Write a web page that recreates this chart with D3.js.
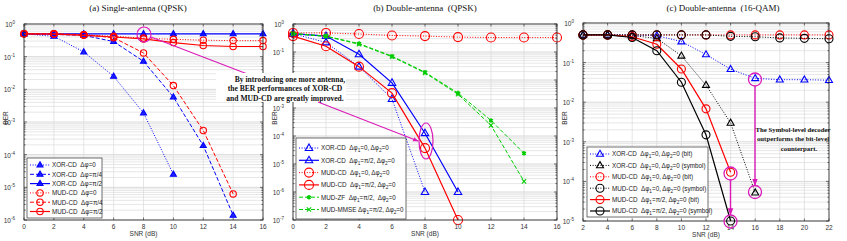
<!DOCTYPE html>
<html>
<head>
<meta charset="utf-8">
<script src="https://cdn.jsdelivr.net/npm/d3@7"></script>
<style>
  body { margin: 0; background: #fff; }
  svg { display: block; }
  text { white-space: pre; }
</style>
</head>
<body>
<div id="chart"></div>
<script>
// ---- data ----
const snrA = [0, 2, 4, 6, 8, 10, 12, 14, 16];
const snrB = [0, 2, 4, 6, 8, 10, 12, 14, 16];
const snrC = [2, 4, 6, 8, 10, 12, 14, 16, 18, 20, 22];

// (a) single antenna, QPSK
const aXor0   = [0.5, 0.42, 0.14, 0.025, 0.0019, 2.5e-5];
const aXorPi4 = [0.5, 0.48, 0.45, 0.29, 0.072, 0.0058, 1.9e-4, 1.4e-6];
const aXorPi2 = [0.5, 0.5, 0.5, 0.5, 0.5, 0.5, 0.5, 0.5, 0.5];
const aMud0   = [0.5, 0.5, 0.47, 0.42, 0.37, 0.34, 0.32, 0.31, 0.31];
const aMudPi4 = [0.5, 0.5, 0.47, 0.38, 0.13, 0.013, 5.5e-4, 6.3e-6];
const aMudPi2 = [0.5, 0.49, 0.45, 0.4, 0.35, 0.27, 0.22, 0.205, 0.205];

// (b) double antenna, QPSK
const bXor0    = [0.45, 0.22, 0.03, 0.0021, 1e-6];
const bXorPi2  = [0.45, 0.37, 0.083, 0.0079, 1.26e-4, 1e-6];
const bMud0    = [0.48, 0.48, 0.44, 0.39, 0.37, 0.34, 0.33, 0.33, 0.33];
const bMudPi2  = [0.37, 0.16, 0.03, 0.0034, 3.7e-5, 1e-7];
const bMudZF   = [0.46, 0.37, 0.2, 0.071, 0.019, 0.0034, 3.6e-4, 2.4e-5];
const bMudMMSE = [0.45, 0.36, 0.19, 0.068, 0.018, 0.0031, 2.4e-4, 2.4e-6];

// (c) double antenna, 16-QAM
const cXorBit    = [0.5, 0.5, 0.5, 0.48, 0.34, 0.16, 0.068, 0.04, 0.037, 0.037, 0.036];
const cXorSym    = [0.5, 0.5, 0.48, 0.41, 0.148, 0.027, 0.003, 5.2e-5];
const cMud0Bit   = [0.5, 0.5, 0.5, 0.5, 0.5, 0.5, 0.5, 0.5, 0.5, 0.5, 0.5];
const cMud0Sym   = [0.5, 0.5, 0.5, 0.5, 0.5, 0.5, 0.46, 0.45, 0.42, 0.41, 0.4];
const cMudPi2Bit = [0.5, 0.5, 0.45, 0.29, 0.069, 0.0068, 1.7e-4];
const cMudPi2Sym = [0.5, 0.5, 0.43, 0.2, 0.032, 0.0015, 1e-5];

const xTicksA = [0, 2, 4, 6, 8, 10, 12, 14, 16];
const xTicksC = [2, 4, 6, 8, 10, 12, 14, 16, 18, 20, 22];

const BLUE = "#0000ff", RED = "#ff0000", GREEN = "#00cc00", BLACK = "#000000", MAG = "#d91ab8";
const DOT = "1,1.6", DASH = "4,2", SOLID = null;

const panels = [
  {
    title: "(a) Single-antenna (QPSK)", titleX: 138,
    x0: 24, x1: 263, y0: 24, y1: 220, xDom: [0, 16], xTicks: xTicksA, minExp: -6, labelX: 6,
    hideExp: [],
    legend: { x: 27, y: 158, w: 75, h: 60, rowY: 165, rowH: 9.3 },
    series: [
      { label: "XOR-CD  Δφ=0",   x: snrA, y: aXor0,   c: BLUE, dash: DOT,   m: "tri", fill: BLUE, s: 6 },
      { label: "XOR-CD  Δφ=π/4", x: snrA, y: aXorPi4, c: BLUE, dash: DASH,  m: "tri", fill: BLUE, s: 6 },
      { label: "XOR-CD  Δφ=π/2", x: snrA, y: aXorPi2, c: BLUE, dash: SOLID, m: "tri", fill: BLUE, s: 6 },
      { label: "MUD-CD  Δφ=0",   x: snrA, y: aMud0,   c: RED,  dash: DOT,   m: "circ", s: 3.2 },
      { label: "MUD-CD  Δφ=π/4", x: snrA, y: aMudPi4, c: RED,  dash: DASH,  m: "circ", s: 3.2 },
      { label: "MUD-CD  Δφ=π/2", x: snrA, y: aMudPi2, c: RED,  dash: SOLID, m: "circ", s: 3.2 }
    ]
  },
  {
    title: "(b) Double-antenna  (QPSK)", titleX: 425,
    x0: 293, x1: 557, y0: 24, y1: 220, xDom: [0, 16], xTicks: xTicksA, minExp: -7, labelX: 275,
    hideExp: [-2],   // covered by the annotation text in the original
    legend: { x: 296, y: 138, w: 110, h: 81, rowY: 148, rowH: 12.3 },
    series: [
      { label: "XOR-CD  Δφ_1=0, Δφ_2=0",     x: snrB, y: bXor0,    c: BLUE,  dash: DOT,   m: "tri",  s: 7.5 },
      { label: "XOR-CD  Δφ_1=π/2, Δφ_2=0",   x: snrB, y: bXorPi2,  c: BLUE,  dash: SOLID, m: "tri",  s: 7.5 },
      { label: "MUD-CD  Δφ_1=0, Δφ_2=0",     x: snrB, y: bMud0,    c: RED,   dash: DOT,   m: "circ", s: 4.5 },
      { label: "MUD-CD  Δφ_1=π/2, Δφ_2=0",   x: snrB, y: bMudPi2,  c: RED,   dash: SOLID, m: "circ", s: 4.5 },
      { label: "MUD-ZF  Δφ_1=π/2,  Δφ_2=0",  x: snrB, y: bMudZF,   c: GREEN, dash: DASH,  m: "star", s: 3 },
      { label: "MUD-MMSE Δφ_1=π/2, Δφ_2=0",  x: snrB, y: bMudMMSE, c: GREEN, dash: DASH,  m: "x",    s: 2.5 }
    ]
  },
  {
    title: "(c) Double-antenna  (16-QAM)", titleX: 723,
    x0: 583, x1: 829, y0: 23, y1: 221, xDom: [2, 22], xTicks: xTicksC, minExp: -5, labelX: 565,
    hideExp: [],
    legend: { x: 587, y: 147, w: 121, h: 70, rowY: 154, rowH: 11.4 },
    series: [
      { label: "XOR-CD  Δφ_1=0, Δφ_2=0 (bit)",      x: snrC, y: cXorBit,    c: BLUE,  dash: DOT,   m: "tri",  s: 7 },
      { label: "XOR-CD  Δφ_1=0, Δφ_2=0 (symbol)",   x: snrC, y: cXorSym,    c: BLACK, dash: DOT,   m: "tri",  s: 7 },
      { label: "MUD-CD  Δφ_1=0, Δφ_2=0 (bit)",      x: snrC, y: cMud0Bit,   c: RED,   dash: DOT,   m: "circ", s: 4 },
      { label: "MUD-CD  Δφ_1=0, Δφ_2=0 (symbol)",   x: snrC, y: cMud0Sym,   c: BLACK, dash: DOT,   m: "circ", s: 4 },
      { label: "MUD-CD  Δφ_1=π/2, Δφ_2=0 (bit)",    x: snrC, y: cMudPi2Bit, c: RED,   dash: SOLID, m: "circ", s: 4 },
      { label: "MUD-CD  Δφ_1=π/2, Δφ_2=0 (symbol)", x: snrC, y: cMudPi2Sym, c: BLACK, dash: SOLID, m: "circ", s: 4 }
    ]
  }
];

const svg = d3.select("#chart").append("svg")
  .attr("width", 847).attr("height", 241);

const SANS = "Liberation Sans, Arial, sans-serif";
const SERIF = "Liberation Serif, Times New Roman, serif";

// draw a marker at (px,py)
function marker(g, s, px, py) {
  if (s.m === "circ") {
    g.append("circle").attr("cx", px).attr("cy", py).attr("r", s.s)
      .attr("fill", "none").attr("stroke", s.c).attr("stroke-width", 1.1);
  } else if (s.m === "tri") {
    const side = s.s, h = side * Math.sqrt(3) / 2;
    g.append("path")
      .attr("d", `M${px},${py - h * 0.62}L${px + side / 2},${py + h * 0.38}L${px - side / 2},${py + h * 0.38}Z`)
      .attr("fill", s.fill || "none").attr("fill-opacity", s.fill ? 0.85 : 1)
      .attr("stroke", s.c).attr("stroke-width", 1.1);
  } else if (s.m === "star") {
    g.append("path").attr("transform", `translate(${px},${py})`)
      .attr("d", d3.symbol(d3.symbolAsterisk, 14)())
      .attr("fill", "none").attr("stroke", s.c).attr("stroke-width", 1.5);
  } else if (s.m === "x") {
    g.append("path").attr("transform", `translate(${px},${py})`)
      .attr("d", d3.symbol(d3.symbolTimes, 14)())
      .attr("fill", "none").attr("stroke", s.c).attr("stroke-width", 1.1);
  }
}

// text with "_n" subscripts
function richText(t, str) {
  const parts = str.split(/_(\d)/);
  parts.forEach((p, i) => {
    if (!p) return;
    if (i % 2 === 1) {
      t.append("tspan").attr("font-size", "0.75em").attr("dy", 2).text(p);
    } else {
      t.append("tspan").attr("dy", i > 0 ? -2 : 0).text(p);
    }
  });
}

panels.forEach(P => {
  const x = d3.scaleLinear().domain(P.xDom).range([P.x0, P.x1]);
  const y = d3.scaleLog().domain([Math.pow(10, P.minExp), 1]).range([P.y1, P.y0]);
  const g = svg.append("g");

  // grid
  const majors = d3.range(P.minExp, 1).map(e => Math.pow(10, e));
  const minors = [];
  d3.range(P.minExp, 0).forEach(e => { for (let m = 2; m <= 9; m++) minors.push(m * Math.pow(10, e)); });

  g.selectAll(".ming").data(minors).join("line")
    .attr("x1", P.x0).attr("x2", P.x1).attr("y1", d => y(d)).attr("y2", d => y(d))
    .attr("stroke", "#dcdcdc").attr("stroke-width", 0.7);
  g.selectAll(".majg").data(majors).join("line")
    .attr("x1", P.x0).attr("x2", P.x1).attr("y1", d => y(d)).attr("y2", d => y(d))
    .attr("stroke", "#cfcfcf").attr("stroke-width", 0.8);
  g.selectAll(".xg").data(P.xTicks).join("line")
    .attr("x1", d => x(d)).attr("x2", d => x(d)).attr("y1", P.y0).attr("y2", P.y1)
    .attr("stroke", "#dadada").attr("stroke-width", 0.7);

  // inner ticks
  const tk = g.append("g").attr("stroke", "#222").attr("stroke-width", 0.6);
  P.xTicks.forEach(v => {
    tk.append("line").attr("x1", x(v)).attr("x2", x(v)).attr("y1", P.y1).attr("y2", P.y1 - 2.5);
    tk.append("line").attr("x1", x(v)).attr("x2", x(v)).attr("y1", P.y0).attr("y2", P.y0 + 2.5);
  });
  majors.forEach(v => {
    tk.append("line").attr("x1", P.x0).attr("x2", P.x0 + 3).attr("y1", y(v)).attr("y2", y(v));
    tk.append("line").attr("x1", P.x1).attr("x2", P.x1 - 3).attr("y1", y(v)).attr("y2", y(v));
  });
  minors.forEach(v => {
    tk.append("line").attr("x1", P.x0).attr("x2", P.x0 + 1.6).attr("y1", y(v)).attr("y2", y(v));
    tk.append("line").attr("x1", P.x1).attr("x2", P.x1 - 1.6).attr("y1", y(v)).attr("y2", y(v));
  });

  // series
  const line = d3.line().x(d => x(d[0])).y(d => y(d[1]));
  P.series.forEach(s => {
    const pts = s.y.map((v, i) => [s.x[i], v]);
    g.append("path").datum(pts).attr("d", line)
      .attr("fill", "none").attr("stroke", s.c).attr("stroke-width", s.dash === SOLID ? 1.2 : 1)
      .attr("stroke-dasharray", s.dash);
    pts.forEach(p => marker(g, s, x(p[0]), y(p[1])));
  });

  // frame
  g.append("rect").attr("x", P.x0).attr("y", P.y0).attr("width", P.x1 - P.x0).attr("height", P.y1 - P.y0)
    .attr("fill", "none").attr("stroke", "#222").attr("stroke-width", 0.8);

  // tick labels
  P.xTicks.forEach(v => {
    g.append("text").attr("x", x(v)).attr("y", P.y1 + 9).attr("text-anchor", "middle")
      .attr("font-family", SANS).attr("font-size", 6.5).attr("fill", "#333").text(v);
  });
  majors.forEach(v => {
    const e = Math.round(Math.log10(v));
    if (P.hideExp.includes(e)) return;
    const t = g.append("text").attr("x", P.x0 - 9).attr("y", y(v) + 3).attr("text-anchor", "end")
      .attr("font-family", SANS).attr("font-size", 6.5).attr("fill", "#333");
    t.append("tspan").text("10");
    t.append("tspan").attr("font-size", 4.5).attr("dy", -3).text(e);
  });

  // axis titles
  g.append("text").attr("x", (P.x0 + P.x1) / 2).attr("y", P.y1 + 16).attr("text-anchor", "middle")
    .attr("font-family", SANS).attr("font-size", 6.5).attr("fill", "#333").text("SNR (dB)");
  g.append("text").attr("transform", `translate(${P.labelX + 2},${(P.y0 + P.y1) / 2 - 4}) rotate(-90)`)
    .attr("text-anchor", "middle").attr("font-family", SANS).attr("font-size", 6.5).attr("fill", "#333").text("BER");

  // title
  svg.append("text").attr("x", P.titleX).attr("y", 11).attr("text-anchor", "middle")
    .attr("font-family", SERIF).attr("font-size", 9).attr("fill", "#111").text(P.title);

  // legend
  const L = P.legend;
  const lg = svg.append("g");
  lg.append("rect").attr("x", L.x).attr("y", L.y).attr("width", L.w).attr("height", L.h)
    .attr("fill", "#fff").attr("stroke", "#333").attr("stroke-width", 0.7);
  P.series.forEach((s, i) => {
    const ly = L.rowY + i * L.rowH;
    lg.append("line").attr("x1", L.x + 3).attr("x2", L.x + 23).attr("y1", ly).attr("y2", ly)
      .attr("stroke", s.c).attr("stroke-width", s.dash === SOLID ? 1.2 : 1).attr("stroke-dasharray", s.dash);
    marker(lg, s, L.x + 13, ly);
    const t = lg.append("text").attr("x", L.x + 25).attr("y", ly + 2.3)
      .attr("font-family", SANS).attr("font-size", 6.3).attr("fill", "#222");
    richText(t, s.label);
  });
});

// ---- annotations ----
const ann = svg.append("g");
ann.append("ellipse").attr("cx", 144).attr("cy", 34.5).attr("rx", 7).attr("ry", 7.5)
  .attr("fill", "none").attr("stroke", MAG).attr("stroke-width", 1.2);
ann.append("line").attr("x1", 151).attr("y1", 37).attr("x2", 250).attr("y2", 75)
  .attr("stroke", MAG).attr("stroke-width", 1.1);
ann.append("rect").attr("x", 216).attr("y", 73).attr("width", 130).attr("height", 29).attr("fill", "#fff");
["By introducing one more antenna,", "the BER performances of XOR-CD", "and MUD-CD are greatly improved."]
  .forEach((s, i) => ann.append("text").attr("x", 285 + (i === 0 ? 5 : 0)).attr("y", 82 + i * 9.4)
    .attr("text-anchor", "middle").attr("font-family", SERIF).attr("font-weight", "bold")
    .attr("font-size", 7.6).attr("fill", "#111").text(s));

const defs = svg.append("defs");
defs.append("marker").attr("id", "ah").attr("viewBox", "0 0 10 10").attr("refX", 9).attr("refY", 5)
  .attr("markerWidth", 5).attr("markerHeight", 5).attr("orient", "auto")
  .append("path").attr("d", "M0,1L10,5L0,9Z").attr("fill", MAG);

ann.append("line").attr("x1", 318).attr("y1", 102).attr("x2", 418).attr("y2", 141)
  .attr("stroke", MAG).attr("stroke-width", 1.1).attr("marker-end", "url(#ah)");
ann.append("ellipse").attr("cx", 426).attr("cy", 141).attr("rx", 7).attr("ry", 18)
  .attr("fill", "none").attr("stroke", MAG).attr("stroke-width", 1.2);

// panel (c) circles and arrows
[[755, 79.5], [755, 192], [730.5, 173.5], [730.5, 221.5]].forEach(c =>
  ann.append("circle").attr("cx", c[0]).attr("cy", c[1]).attr("r", 6.5)
    .attr("fill", "none").attr("stroke", MAG).attr("stroke-width", 1.3));
ann.append("line").attr("x1", 755).attr("y1", 86).attr("x2", 755).attr("y2", 185)
  .attr("stroke", MAG).attr("stroke-width", 1.4).attr("marker-end", "url(#ah)");
ann.append("line").attr("x1", 730.5).attr("y1", 180).attr("x2", 730.5).attr("y2", 214.5)
  .attr("stroke", MAG).attr("stroke-width", 1.4).attr("marker-end", "url(#ah)");
["The Symbol-level decoder", "outperforms the bit-level", "counterpart."]
  .forEach((s, i) => ann.append("text").attr("x", 793 + (i === 2 ? 6 : 0)).attr("y", 132 + i * 9.3)
    .attr("text-anchor", "middle").attr("font-family", SERIF).attr("font-weight", "bold")
    .attr("font-size", 6.8).attr("fill", "#111").text(s));
</script>
</body>
</html>
